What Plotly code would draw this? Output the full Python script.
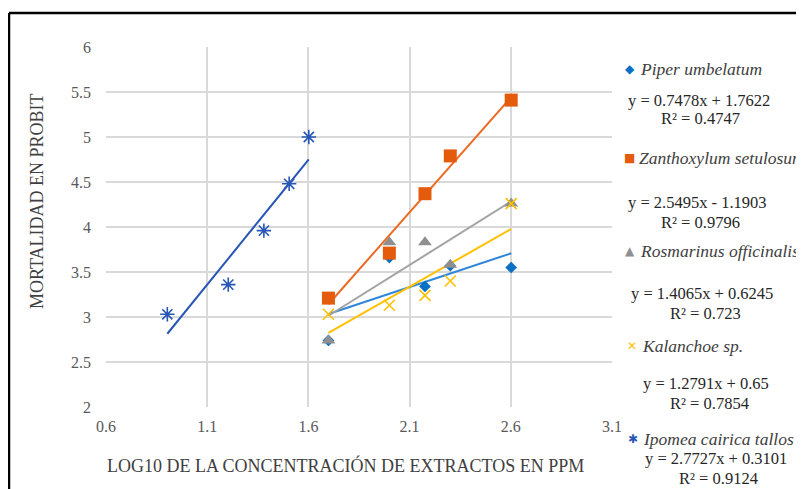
import numpy as np
import plotly.graph_objects as go

# ---- data ----
x_main = [1.699, 2.0, 2.176, 2.301, 2.602]
piper_y = [2.74, 3.66, 3.34, 3.57, 3.55]
zanth_y = [3.21, 3.71, 4.37, 4.79, 5.41]
rosm_y = [2.74, 3.83, 3.83, 3.58, 4.26]
kal_y = [3.03, 3.13, 3.24, 3.40, 4.26]
x_ipo = [0.903, 1.204, 1.380, 1.505, 1.602]
ipo_y = [3.03, 3.36, 3.96, 4.48, 5.00]

names = ["Piper umbelatum", "Zanthoxylum setulosum", "Rosmarinus officinalis",
         "Kalanchoe sp.", "Ipomea cairica tallos"]
slopes = [0.7478, 2.5495, 1.4065, 1.2791, 2.7727]
intercepts = [1.7622, -1.1903, 0.6245, 0.65, 0.3101]
eq_labels = ["y = 0.7478x + 1.7622", "y = 2.5495x - 1.1903", "y = 1.4065x + 0.6245",
             "y = 1.2791x + 0.65", "y = 2.7727x + 0.3101"]
r2_labels = ["R² = 0.4747", "R² = 0.9796", "R² = 0.723", "R² = 0.7854", "R² = 0.9124"]

x_tick_vals = [0.6, 1.1, 1.6, 2.1, 2.6, 3.1]
y_tick_vals = [2, 2.5, 3, 3.5, 4, 4.5, 5, 5.5, 6]

marker_colors = ["#0A70C4", "#E55B0C", "#8F8F8F", "#FFC000", "#2856B6"]
line_colors = ["#2F86D8", "#EC6A24", "#A3A3A3", "#FFC000", "#2856B6"]
symbols = ["diamond", "square", "triangle-up", "x-thin-open", "asterisk-open"]
sizes = [9, 13, 12, 11, 12]
glyphs = ["◆", "■", "▲", "✕", "✱"]

series_x = [x_main, x_main, x_main, x_main, x_ipo]
series_y = [piper_y, zanth_y, rosm_y, kal_y, ipo_y]

FONT = "Liberation Serif, Times New Roman, serif"
OFF = 8  # page offset of the figure
W, H = 804 - OFF, 489 - OFF
L, R, T, B = 106, 612, 47, 407  # page pixels of plot area


def xp(px):
    return (px - L) / (R - L)


def yp(py):
    return (B - py) / (B - T)


fig = go.Figure()

# trendlines
for i in range(5):
    xs = np.array([min(series_x[i]), max(series_x[i])])
    ys = slopes[i] * xs + intercepts[i]
    fig.add_trace(go.Scatter(x=xs, y=ys, mode="lines",
                             line=dict(color=line_colors[i], width=2),
                             showlegend=False, hoverinfo="skip"))

# markers
for i in range(5):
    mk = dict(symbol=symbols[i], size=sizes[i], color=marker_colors[i])
    if "open" in symbols[i]:
        mk["line"] = dict(color=marker_colors[i], width=1.6)
    fig.add_trace(go.Scatter(x=series_x[i], y=series_y[i], mode="markers",
                             marker=mk, name=names[i], showlegend=False))

annotations = []
legend_rows = [
    (630, 69, 626, 100, 659, 119),
    (629, 158, 626, 202, 659, 222),
    (630, 251, 629, 293, 668, 313),
    (632, 346, 641, 383, 668, 403),
    (633, 439, 643, 458, 677, 478),
]
for i, (gx, ny, ex, ey, rx, ry) in enumerate(legend_rows):
    annotations.append(dict(x=xp(gx), y=yp(ny), xref="paper", yref="paper",
                            text=glyphs[i], showarrow=False, xanchor="center", yanchor="middle",
                            font=dict(family="DejaVu Sans", size=12, color=marker_colors[i])))
    annotations.append(dict(x=xp(gx + 8), y=yp(ny), xref="paper", yref="paper",
                            text="<i>" + names[i] + "</i>", showarrow=False,
                            xanchor="left", yanchor="middle",
                            font=dict(family=FONT, size=17.5, color="#404040")))
    annotations.append(dict(x=xp(ex), y=yp(ey), xref="paper", yref="paper",
                            text=eq_labels[i], showarrow=False,
                            xanchor="left", yanchor="middle",
                            font=dict(family=FONT, size=16.5, color="#262626")))
    annotations.append(dict(x=xp(rx), y=yp(ry), xref="paper", yref="paper",
                            text=r2_labels[i], showarrow=False,
                            xanchor="left", yanchor="middle",
                            font=dict(family=FONT, size=16.5, color="#262626")))

annotations.append(dict(x=xp(345), y=yp(465), xref="paper", yref="paper",
                        text="LOG10 DE LA CONCENTRACIÓN DE EXTRACTOS EN PPM",
                        showarrow=False, xanchor="center", yanchor="middle",
                        font=dict(family=FONT, size=18, color="#404040")))
annotations.append(dict(x=xp(37), y=yp(202), xref="paper", yref="paper",
                        text="MORTALIDAD EN PROBIT", textangle=-90,
                        showarrow=False, xanchor="center", yanchor="middle",
                        font=dict(family=FONT, size=18, color="#404040")))

shapes = [
    dict(type="line", xref="paper", yref="paper", x0=xp(9), x1=xp(820), y0=yp(13), y1=yp(13),
         line=dict(color="black", width=2.5)),
    dict(type="line", xref="paper", yref="paper", x0=xp(9), x1=xp(9), y0=yp(13), y1=yp(520),
         line=dict(color="black", width=2.5)),
]

fig.update_layout(
    width=W, height=H,
    margin=dict(l=L - OFF, r=W - (R - OFF), t=T - OFF, b=H - (B - OFF), pad=0),
    paper_bgcolor="white", plot_bgcolor="white",
    annotations=annotations, shapes=shapes,
    showlegend=False,
    xaxis=dict(range=[0.6, 3.1], tickvals=x_tick_vals,
               ticktext=[str(v) for v in x_tick_vals],
               showgrid=True, gridcolor="#D9D9D9", gridwidth=1.5,
               zeroline=False, showline=False, ticks="",
               ticklabelstandoff=8,
               tickfont=dict(family=FONT, size=16, color="#595959")),
    yaxis=dict(range=[2, 6], tickvals=y_tick_vals,
               ticktext=[("%g" % v) for v in y_tick_vals],
               showgrid=True, gridcolor="#D9D9D9", gridwidth=1.5,
               zeroline=False, showline=False, ticks="",
               ticklabelstandoff=14,
               tickfont=dict(family=FONT, size=16, color="#595959")),
)

fig.write_html("out.html")
